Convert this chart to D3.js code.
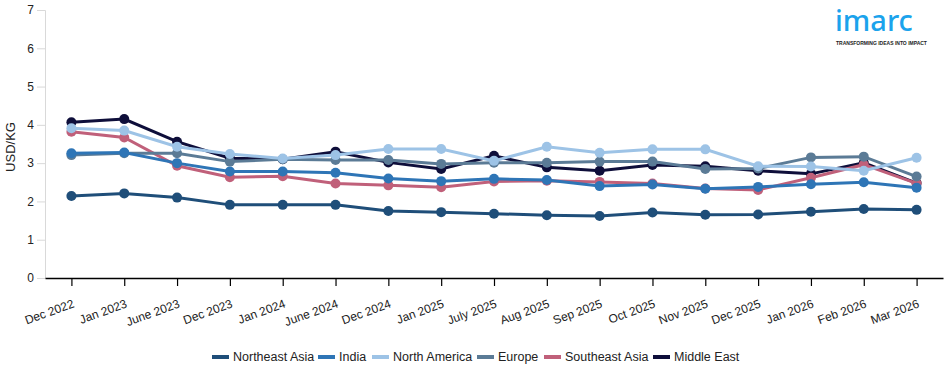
<!DOCTYPE html>
<html>
<head>
<meta charset="utf-8">
<script src="https://cdn.jsdelivr.net/npm/d3@7"></script>
<style>
  body { margin: 0; background: #fff; }
  svg text { font-family: "Liberation Sans", Arial, sans-serif; }
</style>
</head>
<body>
<svg id="chart" width="950" height="373"></svg>
<script>
var months = ["Dec 2022", "Jan 2023", "June 2023", "Dec 2023", "Jan 2024", "June 2024",
  "Dec 2024", "Jan 2025", "July 2025", "Aug 2025", "Sep 2025", "Oct 2025", "Nov 2025",
  "Dec 2025", "Jan 2026", "Feb 2026", "Mar 2026"];

var regions = ["Northeast Asia", "India", "North America", "Europe", "Southeast Asia", "Middle East"];

var northeastAsia = [2.14, 2.21, 2.10, 1.91, 1.91, 1.91, 1.75, 1.72, 1.68, 1.64, 1.62, 1.71, 1.65, 1.66, 1.73, 1.80, 1.78];
var india         = [3.26, 3.28, 3.00, 2.78, 2.78, 2.75, 2.60, 2.53, 2.59, 2.56, 2.40, 2.44, 2.33, 2.38, 2.45, 2.50, 2.36];
var northAmerica  = [3.91, 3.85, 3.43, 3.24, 3.12, 3.21, 3.37, 3.37, 3.06, 3.43, 3.27, 3.36, 3.36, 2.92, 2.91, 2.80, 3.14];
var europe        = [3.21, 3.26, 3.26, 3.04, 3.10, 3.08, 3.08, 2.98, 3.01, 3.01, 3.04, 3.04, 2.85, 2.86, 3.15, 3.17, 2.65];
var southeastAsia = [3.82, 3.67, 2.93, 2.63, 2.66, 2.47, 2.42, 2.37, 2.52, 2.54, 2.51, 2.47, 2.34, 2.30, 2.62, 2.96, 2.47];
var middleEast    = [4.07, 4.15, 3.56, 3.13, 3.10, 3.30, 3.02, 2.85, 3.19, 2.89, 2.80, 2.95, 2.92, 2.80, 2.72, 3.01, 2.48];

var yTicks = [0, 1, 2, 3, 4, 5, 6, 7];

var colors = ["#1f4e79", "#2e75b6", "#9dc3e6", "#5b7b96", "#c0607a", "#0e0e3a"];
var seriesValues = [northeastAsia, india, northAmerica, europe, southeastAsia, middleEast];

var svg = d3.select("#chart");

var x = d3.scalePoint().domain(months).range([45, 943]).padding(0.5),
    y = d3.scaleLinear().domain([0, 7]).range([278, 10]);

// y axis (light grey)
var yAxis = svg.append("g")
  .attr("transform", "translate(45,0)")
  .call(d3.axisLeft(y).tickValues(yTicks).tickFormat(d3.format("d")).tickSize(8).tickPadding(3));
yAxis.select(".domain").attr("stroke", "#d9d9d9");
yAxis.selectAll(".tick line").attr("stroke", "#d9d9d9");
yAxis.selectAll(".tick text").attr("fill", "#222").style("font-size", "12px");

// x axis (black)
var xAxis = svg.append("g")
  .attr("transform", "translate(0,278)")
  .call(d3.axisBottom(x).tickSize(8).tickSizeOuter(0));
xAxis.select(".domain").attr("stroke", "#000").attr("stroke-width", 1.5);
xAxis.selectAll(".tick line").attr("stroke", "#000").attr("stroke-width", 1.2);
xAxis.selectAll(".tick text")
  .attr("fill", "#222")
  .style("font-size", "12px")
  .attr("text-anchor", "end")
  .attr("x", 0)
  .attr("y", 0)
  .attr("dy", 0)
  .attr("transform", "translate(3,29) rotate(-20)");

// y label
svg.append("text")
  .attr("transform", "translate(15,147) rotate(-90)")
  .attr("text-anchor", "middle")
  .style("font-size", "13px")
  .attr("fill", "#222")
  .text("USD/KG");

var line = d3.line()
  .x(function(d, i) { return x(months[i]); })
  .y(function(d) { return y(d); });

// draw in reverse so Northeast Asia ends on top
var order = [5, 4, 3, 2, 1, 0];
order.forEach(function(k) {
  var g = svg.append("g");
  g.append("path")
    .datum(seriesValues[k])
    .attr("d", line)
    .attr("fill", "none")
    .attr("stroke", colors[k])
    .attr("stroke-width", 3);
  g.selectAll("circle")
    .data(seriesValues[k])
    .enter()
    .append("circle")
      .attr("cx", function(d, i) { return x(months[i]); })
      .attr("cy", function(d) { return y(d); })
      .attr("r", 5)
      .attr("fill", colors[k]);
});

// legend
var legendX = [212, 318, 372, 477, 544, 653];
var legend = svg.append("g").attr("transform", "translate(0,357)");
regions.forEach(function(name, i) {
  legend.append("rect")
    .attr("x", legendX[i])
    .attr("y", -2)
    .attr("width", 17)
    .attr("height", 4)
    .attr("fill", colors[i]);
  legend.append("text")
    .attr("x", legendX[i] + 21)
    .attr("y", 0)
    .attr("dy", "0.35em")
    .style("font-size", "12.5px")
    .attr("fill", "#222")
    .text(name);
});

// logo
var logo = svg.append("g");
logo.append("text")
  .attr("x", 835)
  .attr("y", 31)
  .style("font-size", "29px")
  .style("font-family", "'Noto Sans', sans-serif")
  .style("font-weight", "500")
  .attr("fill", "#1ba3ec")
  .text("imarc");
logo.append("text")
  .attr("x", 836)
  .attr("y", 45)
  .style("font-size", "5px")
  .style("font-weight", "bold")
  .attr("fill", "#222")
  .text("TRANSFORMING IDEAS INTO IMPACT");
</script>
</body>
</html>
